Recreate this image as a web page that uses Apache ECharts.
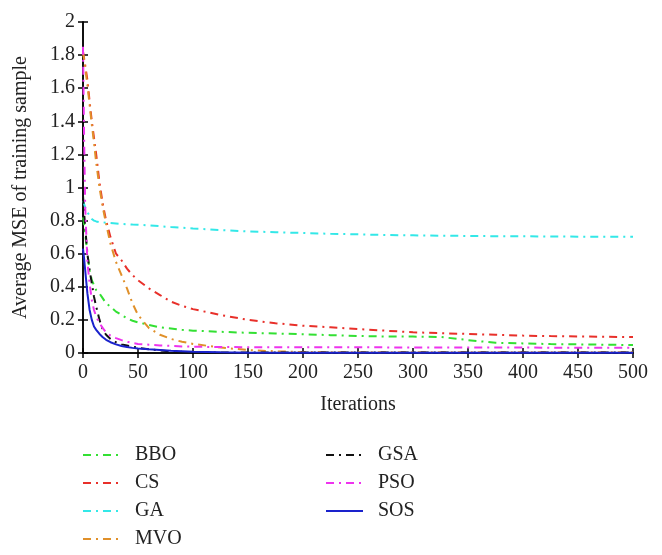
<!DOCTYPE html>
<html>
<head>
<meta charset="utf-8">
<script src="https://cdn.jsdelivr.net/npm/echarts@6/dist/echarts.min.js"></script>
<style>html,body{margin:0;padding:0;background:#fff;}#c{width:662px;height:555px;}</style>
</head>
<body>
<div id="c"></div>
<script>
const iters = [0,1,2,4,6,8,10,12,15,18,21,25,30,35,40,45,50,60,70,80,90,100,125,150,175,200,225,250,275,300,325,350,375,400,425,450,475,500];
const BBO = [0.82,0.78,0.72,0.6,0.5,0.44,0.41,0.38,0.36,0.33,0.3,0.28,0.25,0.23,0.21,0.195,0.185,0.17,0.155,0.148,0.14,0.135,0.128,0.122,0.118,0.113,0.108,0.103,0.1,0.099,0.097,0.078,0.062,0.058,0.054,0.052,0.05,0.048];
const CS = [1.82,1.78,1.74,1.65,1.52,1.4,1.3,1.2,1.03,0.9,0.8,0.7,0.6,0.56,0.51,0.47,0.44,0.39,0.35,0.31,0.285,0.265,0.23,0.2,0.18,0.165,0.155,0.145,0.135,0.125,0.12,0.115,0.11,0.105,0.102,0.1,0.098,0.096];
const GA = [0.92,0.9,0.88,0.85,0.83,0.81,0.8,0.795,0.79,0.79,0.787,0.785,0.783,0.78,0.778,0.776,0.775,0.771,0.766,0.761,0.757,0.752,0.743,0.735,0.73,0.725,0.72,0.717,0.713,0.711,0.709,0.707,0.706,0.705,0.704,0.703,0.703,0.702];
const MVO = [1.82,1.77,1.72,1.62,1.5,1.38,1.27,1.15,1.0,0.88,0.78,0.66,0.55,0.47,0.39,0.3,0.23,0.15,0.11,0.085,0.068,0.055,0.033,0.018,0.01,0.006,0.005,0.005,0.004,0.004,0.004,0.004,0.004,0.004,0.004,0.004,0.004,0.004];
const GSA = [0.95,0.85,0.76,0.6,0.5,0.42,0.34,0.28,0.2,0.14,0.11,0.085,0.065,0.052,0.045,0.038,0.032,0.022,0.015,0.01,0.007,0.005,0.003,0.003,0.003,0.003,0.003,0.003,0.003,0.003,0.003,0.003,0.003,0.003,0.003,0.003,0.003,0.003];
const PSO = [1.85,1.3,0.88,0.55,0.42,0.32,0.26,0.22,0.18,0.15,0.125,0.105,0.09,0.078,0.068,0.06,0.055,0.05,0.046,0.043,0.04,0.038,0.036,0.035,0.035,0.034,0.034,0.034,0.034,0.033,0.033,0.033,0.033,0.033,0.032,0.032,0.032,0.032];
const SOS = [0.63,0.57,0.5,0.36,0.26,0.2,0.16,0.14,0.115,0.095,0.08,0.065,0.052,0.042,0.036,0.031,0.027,0.022,0.018,0.014,0.011,0.008,0.004,0.002,0.001,0.001,0.001,0.001,0.001,0.001,0.001,0.001,0.001,0.001,0.001,0.001,0.001,0.001];
const xTicks = [0,50,100,150,200,250,300,350,400,450,500];
const yTicks = [0,0.2,0.4,0.6,0.8,1,1.2,1.4,1.6,1.8,2];

const names = ['BBO','CS','GA','MVO','GSA','PSO','SOS'];
const vals = [BBO,CS,GA,MVO,GSA,PSO,SOS];
const colors = ['#33e033','#e8302a','#33e8e8','#e0902a','#111111','#ee33ee','#1a22cc'];
const dashDot = [8,5,2,5];
const FONT = 'Liberation Serif';

const series = names.map((n,i)=>({
  name:n, type:'line', symbol:'none', showSymbol:false, animation:false,
  data: iters.map((x,k)=>[x, vals[i][k]]),
  lineStyle:{color:colors[i], width:2, type: n==='SOS' ? 'solid' : dashDot},
  itemStyle:{color:colors[i]}
}));

const axisCommon = {
  axisLine:{show:true, lineStyle:{color:'#000', width:1.5}},
  axisTick:{show:true, inside:true, length:5, lineStyle:{color:'#000', width:1.5}},
  splitLine:{show:false}
};

const legendCommon = {orient:'vertical', top:445, padding:0, itemWidth:37, itemHeight:14, itemGap:8,
  itemStyle:{color:'rgba(0,0,0,0)', borderWidth:0, opacity:0},
  textStyle:{fontFamily:FONT, fontSize:20, color:'#222', lineHeight:20, padding:[0,0,0,10]}};

const chart = echarts.init(document.getElementById('c'), null, {renderer:'canvas'});
chart.setOption({
  animation:false,
  backgroundColor:'#fff',
  grid:{left:83, right:29, top:22, bottom:202, containLabel:false},
  xAxis:[
    Object.assign({type:'value', min:0, max:500, interval:50, position:'bottom',
      name:'Iterations', nameLocation:'middle', nameGap:42,
      nameTextStyle:{fontFamily:FONT, fontSize:20, color:'#222'},
      axisLabel:{fontFamily:FONT, fontSize:20, color:'#222', margin:10,
        formatter:v=>xTicks.includes(v)?String(v):''}}, axisCommon),
    Object.assign({type:'value', min:0, max:500, interval:50, position:'top', axisLabel:{show:false}}, axisCommon)
  ],
  yAxis:[
    Object.assign({type:'value', min:0, max:2, interval:0.2, position:'left',
      name:'Average MSE of training sample', nameLocation:'middle', nameGap:52,
      nameTextStyle:{fontFamily:FONT, fontSize:20, color:'#222'},
      axisLabel:{fontFamily:FONT, fontSize:20, color:'#222', margin:8,
        formatter:v=>{const t=yTicks.find(y=>Math.abs(y-v)<1e-9); return t===undefined?'':String(t);}}}, axisCommon),
    Object.assign({type:'value', min:0, max:2, interval:0.2, position:'right', axisLabel:{show:false}}, axisCommon)
  ],
  legend:[
    Object.assign({data:['BBO','CS','GA','MVO'], left:82}, legendCommon),
    Object.assign({data:['GSA','PSO','SOS'], left:325}, legendCommon)
  ],
  series: series
});
</script>
</body>
</html>
